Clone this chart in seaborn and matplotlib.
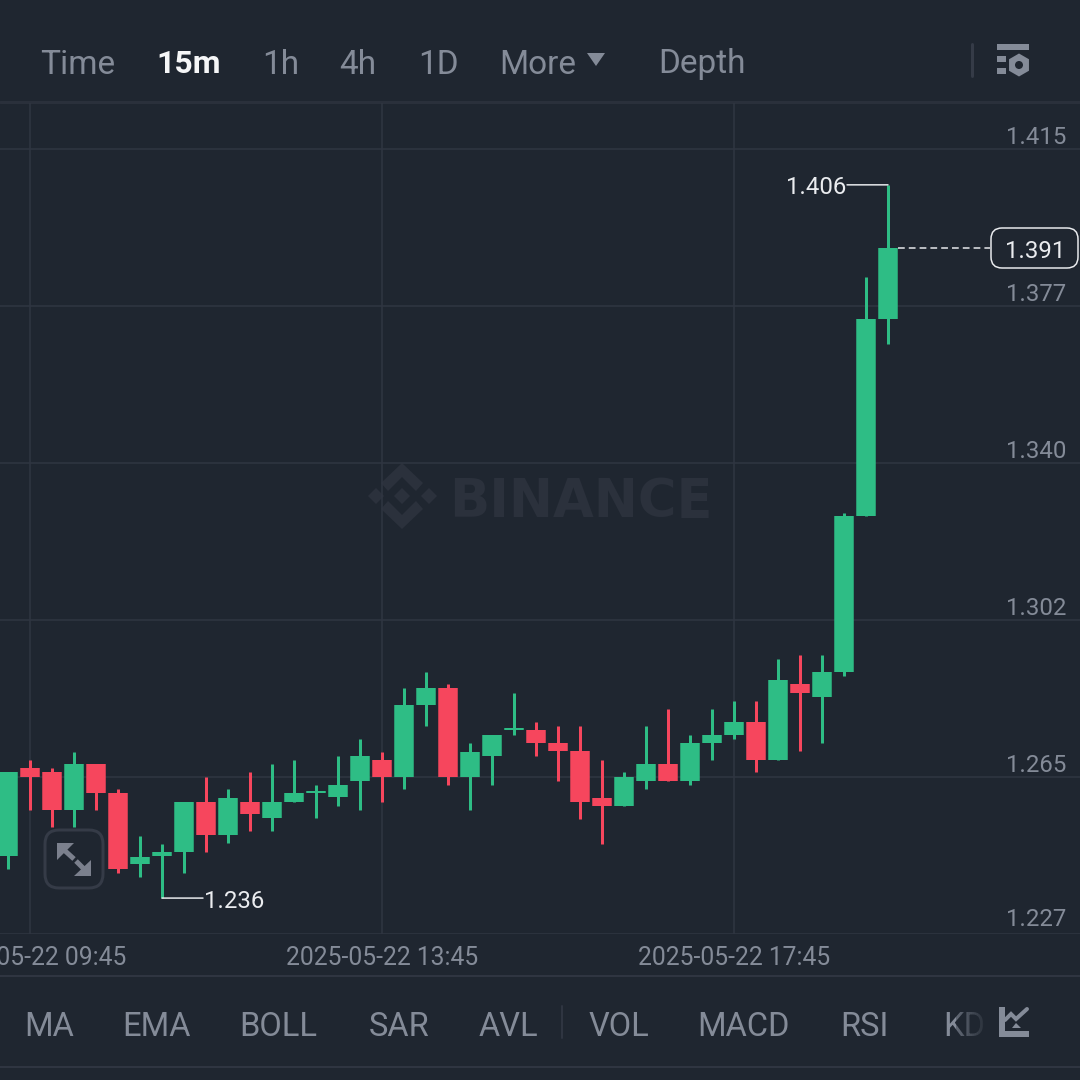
import pandas as pd
import seaborn as sns
import matplotlib.pyplot as plt
from matplotlib.patches import FancyBboxPatch, Polygon, RegularPolygon, Circle, Rectangle

# 15m candles, the first one is 09:30
opens = [1.2457, 1.2668, 1.2658, 1.2567, 1.2677, 1.2608, 1.2438, 1.2457, 1.2466, 1.2586, 1.2507,
         1.2586, 1.2548, 1.2586, 1.2608, 1.2598, 1.2636, 1.2687, 1.2646, 1.2818, 1.2859, 1.2646,
         1.2696, 1.2759, 1.2759, 1.2727, 1.2708, 1.2596, 1.2577, 1.2636, 1.2677, 1.2636, 1.2727,
         1.2747, 1.2778, 1.2687, 1.2869, 1.2838, 1.2897, 1.3271, 1.3743]
highs = [1.2658, 1.2687, 1.2668, 1.2706, 1.2677, 1.2617, 1.2505, 1.2486, 1.2586, 1.2646, 1.2617,
         1.2658, 1.2677, 1.2687, 1.2627, 1.2696, 1.2737, 1.2706, 1.2859, 1.2897, 1.2869, 1.2727,
         1.2747, 1.2847, 1.2778, 1.2768, 1.2768, 1.2687, 1.2658, 1.2768, 1.2809, 1.2747, 1.2809,
         1.2828, 1.2828, 1.2929, 1.2938, 1.2938, 1.3278, 1.3843, 1.4064]
lows = [1.2426, 1.2567, 1.2526, 1.2526, 1.2567, 1.2416, 1.2407, 1.2356, 1.2416, 1.2466, 1.2488,
        1.2517, 1.2517, 1.2586, 1.2548, 1.2577, 1.2567, 1.2586, 1.2617, 1.2768, 1.2627, 1.2567,
        1.2627, 1.2747, 1.2696, 1.2636, 1.2545, 1.2486, 1.2577, 1.2617, 1.2636, 1.2627, 1.2687,
        1.2737, 1.2658, 1.2687, 1.2708, 1.2727, 1.2888, 1.3271, 1.3683]
closes = [1.2658, 1.2646, 1.2567, 1.2677, 1.2608, 1.2426, 1.2454, 1.2466, 1.2586, 1.2507, 1.2596,
          1.2557, 1.2586, 1.2608, 1.2612, 1.2627, 1.2696, 1.2646, 1.2818, 1.2859, 1.2646, 1.2706,
          1.2747, 1.2763, 1.2727, 1.2708, 1.2586, 1.2577, 1.2646, 1.2677, 1.2636, 1.2727, 1.2747,
          1.2778, 1.2687, 1.2878, 1.2847, 1.2897, 1.3271, 1.3743, 1.3913]

price_ticks = [1.227, 1.2646, 1.3022, 1.3398, 1.3774, 1.415]
time_ticks = [1, 17, 33]
time_labels = ["2025-05-22 09:45", "2025-05-22 13:45", "2025-05-22 17:45"]
top_tabs = ["Time", "15m", "1h", "4h", "1D", "More", "Depth"]
bottom_tabs = ["MA", "EMA", "BOLL", "SAR", "AVL", "VOL", "MACD", "RSI", "KD"]

BG = "#1f2630"
GRID = "#2f3541"
GREEN = "#2ebd85"
RED = "#f6465d"
GREY = "#848b98"
WHITE = "#eaecef"
PX = 0.72  # one pixel in points at dpi 100

sns.set_theme(style="darkgrid")
plt.rcParams["font.family"] = ["Roboto", "DejaVu Sans"]

# long form table, one line per wick and one per body
rows_wick = []
rows_body = []
for i in range(len(opens)):
    direction = "up" if closes[i] >= opens[i] else "down"
    rows_wick.append({"i": i, "price": lows[i], "candle": i, "direction": direction})
    rows_wick.append({"i": i, "price": highs[i], "candle": i, "direction": direction})
    rows_body.append({"i": i, "price": opens[i], "candle": i, "direction": direction})
    rows_body.append({"i": i, "price": closes[i], "candle": i, "direction": direction})
wicks = pd.DataFrame(rows_wick)
bodies = pd.DataFrame(rows_body)
colors = {"up": GREEN, "down": RED}

fig = plt.figure(figsize=(10.8, 10.8), dpi=100, facecolor=BG)

# the app chrome lives in an axes in pixel coordinates, under the chart
ui = fig.add_axes([0, 0, 1, 1], zorder=0)
ui.set_xlim(0, 1080)
ui.set_ylim(1080, 0)
ui.axis("off")

# chart axes: y=103..934 px, whole width
ax = fig.add_axes([0, (1080 - 934) / 1080, 1, 831 / 1080], zorder=1)
ax.patch.set_alpha(0)
for s in ax.spines.values():
    s.set_visible(False)

sns.lineplot(data=wicks, x="i", y="price", units="candle", hue="direction", palette=colors,
             estimator=None, legend=False, lw=3 * PX, solid_capstyle="butt", ax=ax)
sns.lineplot(data=bodies, x="i", y="price", units="candle", hue="direction", palette=colors,
             estimator=None, legend=False, lw=19.5 * PX, solid_capstyle="butt", ax=ax)

ax.set_xlim(-8 / 22, 1072 / 22)
ax.set_ylim(1.227, 1.426)
ax.set_xlabel("")
ax.set_ylabel("")
ax.set_xticks(time_ticks, time_labels)
ax.set_yticks(price_ticks, [""] * len(price_ticks))
ax.grid(True, color=GRID, lw=1.6 * PX)
ax.tick_params(axis="x", length=0, pad=8.3, labelsize=17.7, labelcolor=GREY)
ax.tick_params(axis="y", length=0)
ax.set_axisbelow(True)

for t in price_ticks:
    # the lowest label sits a bit higher than the others
    dy = 14 if t == price_ticks[0] else 11
    ax.annotate(f"{t:.3f}", xy=(1, t), xycoords=("axes fraction", "data"), xytext=(-14, dy),
                textcoords="offset pixels", ha="right", va="center", fontsize=17.3, color=GREY)

# highest and lowest markers, leader line and label apart so the line stays level
hi = highs.index(max(highs))
lo = lows.index(min(lows))
ax.annotate("", xy=(hi, highs[hi]), xytext=(-41, 0), textcoords="offset pixels",
            arrowprops=dict(arrowstyle="-", color=WHITE, lw=1.5 * PX, shrinkA=0, shrinkB=0))
ax.annotate(f"{highs[hi]:.3f}", xy=(hi, highs[hi]), xytext=(-42, -3), textcoords="offset pixels",
            ha="right", va="center", fontsize=17.3, color=WHITE)
ax.annotate("", xy=(lo, lows[lo]), xytext=(41, 0), textcoords="offset pixels",
            arrowprops=dict(arrowstyle="-", color=WHITE, lw=1.5 * PX, shrinkA=0, shrinkB=0))
ax.annotate(f"{lows[lo]:.3f}", xy=(lo, lows[lo]), xytext=(42, -3), textcoords="offset pixels",
            ha="left", va="center", fontsize=17.3, color=WHITE)

# last price line and tag
last = len(closes) - 1
ax.hlines(closes[last], last + 0.45, 44.64, color=WHITE, lw=1.5 * PX, linestyles=(0, (4.5, 2.7)))
ui.add_patch(FancyBboxPatch((991, 228), 87, 40, boxstyle="round,pad=0,rounding_size=11",
                            fc=BG, ec=WHITE, lw=1.5 * PX, zorder=3))
ui.text(1035, 251, f"{closes[last]:.3f}", ha="center", va="center", fontsize=17.3, color=WHITE, zorder=4)

# watermark
MARK = "#2b313c"
for pts in [[(402, 463), (423, 483), (416, 491), (402, 477), (388, 491), (381, 483)],
            [(402, 529), (423, 509), (416, 501), (402, 515), (388, 501), (381, 509)],
            [(402, 488), (410, 496), (402, 504), (394, 496)],
            [(376, 488), (384, 496), (376, 504), (368, 496)],
            [(429, 488), (437, 496), (429, 504), (421, 496)]]:
    ui.add_patch(Polygon(pts, closed=True, fc=MARK, ec="none"))
ui.text(449, 496, "BINANCE", ha="left", va="center_baseline", fontsize=37.9, fontweight="bold",
        family="DejaVu Sans", color=MARK)

# top tabs
top_x = [40, 156, 262, 339, 418, 499, 658]
for name, x in zip(top_tabs, top_x):
    active = name == "15m"
    ui.text(x, 61, name, ha="left", va="center_baseline", fontsize=23 if active else 24,
            color="#f5f6f7" if active else GREY, fontweight="bold" if active else "normal")
ui.add_patch(Polygon([(587, 53), (605, 53), (596, 66)], closed=True, fc=GREY, ec="none"))
ui.plot([972, 972], [44, 76], color="#353b47", lw=3 * PX)

# settings icon
ui.add_patch(Rectangle((997, 44), 32, 5.5, fc=GREY, ec="none"))
ui.add_patch(Rectangle((997, 56), 9, 5.5, fc=GREY, ec="none"))
ui.add_patch(Rectangle((997, 68), 9, 5.5, fc=GREY, ec="none"))
ui.add_patch(RegularPolygon((1019, 65), 6, radius=11.5, fc=GREY, ec="none"))
ui.add_patch(Circle((1019, 65), 4, fc=BG, ec="none"))

# borders
ui.plot([0, 1080], [102, 102], color="#2a303b", lw=3 * PX)
ui.plot([0, 1080], [976, 976], color=GRID, lw=2 * PX)
ui.plot([0, 1080], [1067, 1067], color=GRID, lw=2 * PX)
ui.plot([562, 562], [1006, 1038], color=GRID, lw=2 * PX)

# bottom tabs
bottom_x = [24, 122, 239, 369, 479, 589, 697, 840, 943]
for name, x in zip(bottom_tabs, bottom_x):
    ui.text(x, 1024, name, ha="left", va="center_baseline", fontsize=23.5, color=GREY, zorder=3)

# the last tab fades out under the icon
for n in range(20):
    x0 = 956 + n * 2
    ui.add_patch(Rectangle((x0, 1006), 2, 36, fc=BG, ec="none", alpha=min(0.35 + n * 0.04, 1), zorder=4))

# indicator icon
ui.plot([1002, 1002], [1007, 1037], color=GREY, lw=6 * PX, solid_capstyle="butt", zorder=5)
ui.plot([999, 1029], [1034, 1034], color=GREY, lw=6 * PX, solid_capstyle="butt", zorder=5)
ui.plot([1005, 1011, 1016, 1027], [1020, 1014, 1019, 1009], color=GREY, lw=4 * PX, solid_joinstyle="miter", zorder=5)
ui.add_patch(Polygon([(1012, 1028), (1016, 1023), (1021, 1028)], closed=True, fc=GREY, ec="none", zorder=5))

# expand button
ui.add_patch(FancyBboxPatch((45, 830), 58, 58, boxstyle="round,pad=0,rounding_size=14",
                            fc="none", ec="#353b47", lw=3 * PX))
ui.add_patch(Polygon([(57, 843), (74, 843), (57, 860)], closed=True, fc="#7b808d", ec="none"))
ui.add_patch(Polygon([(91, 860), (91, 876), (74, 876)], closed=True, fc="#7b808d", ec="none"))
ui.plot([63, 74], [849, 859], color="#7b808d", lw=5 * PX, solid_capstyle="butt")
ui.plot([76, 86], [861, 871], color="#7b808d", lw=5 * PX, solid_capstyle="butt")

plt.savefig("out.png", dpi=100, facecolor=BG)
